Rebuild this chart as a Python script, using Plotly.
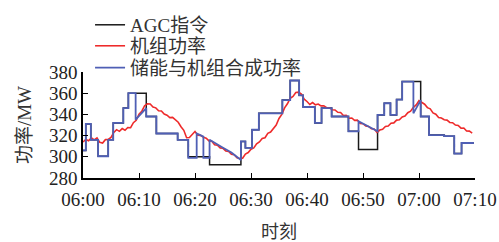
import numpy as np
import plotly.graph_objects as go

# ---------------- data ----------------
tick_vals = [0, 10, 20, 30, 40, 50, 60, 70]
tick_text = ["06:00", "06:10", "06:20", "06:30", "06:40", "06:50", "07:00", "07:10"]

# AGC command (step, value held from each time)
agc_t = [0, 0.5, 1.4, 2.7, 4.5, 5.4, 7.2, 8.1, 11.3, 13.1, 16.9, 18.8, 22.6, 28.2, 29.0,
         30.2, 31.4, 35.6, 37.0, 38.6, 39.3, 41.4, 42.6, 44.4, 47.4, 49.2, 52.6, 53.8,
         54.9, 56.0, 57.0, 60.3, 61.8, 64.5, 66.3, 67.6, 69.8]
agc_v = [306, 331, 316, 300.5, 316, 332, 346, 360, 338, 322, 316, 300, 292.5, 314.5, 308.5,
         325.5, 341, 353.5, 372, 358, 347, 332, 346, 338, 324, 307, 339.5, 350.5,
         339.5, 354, 371, 338, 320.5, 319.5, 303, 313, 313]

# unit power (sampled every 0.5 min)
unit_v = [314.0, 316.3, 315.2, 318.0, 316.0, 317.8, 313.6, 313.0, 316.2, 316.4,
          318.3, 323.0, 325.6, 324.0, 326.6, 325.0, 327.6, 327.4, 332.2, 334.4,
          340.2, 343.0, 348.2, 350.0, 349.8, 347.0, 346.2, 343.4, 343.2, 340.4,
          339.2, 337.0, 337.2, 334.4, 332.6, 328.4, 325.0, 318.0, 318.2, 321.0,
          323.8, 320.4, 320.2, 318.4, 317.6, 315.0, 314.6, 311.4, 311.0, 308.4,
          308.0, 305.4, 305.0, 302.4, 302.0, 299.0, 298.4, 298.6, 302.6, 304.0,
          307.2, 308.4, 312.2, 314.0, 317.2, 318.0, 322.2, 323.4, 327.2, 330.0,
          336.2, 340.0, 346.2, 350.0, 355.2, 357.0, 360.6, 361.0, 359.2, 354.4,
          352.2, 349.4, 351.2, 349.0, 349.8, 348.0, 348.2, 346.4, 346.2, 344.4,
          344.2, 342.0, 341.8, 339.0, 339.2, 336.4, 336.6, 334.4, 334.6, 331.4,
          331.2, 329.0, 328.6, 326.4, 326.2, 323.0, 325.2, 326.0, 328.6, 329.0,
          331.6, 332.0, 334.6, 335.0, 337.6, 338.4, 341.6, 343.0, 346.6, 349.0,
          353.0, 351.4, 349.6, 346.4, 345.2, 341.4, 340.2, 337.0, 336.6, 335.0,
          334.6, 332.4, 332.2, 330.0, 329.6, 327.0, 327.2, 324.4, 324.2, 322.4]
unit_t = list(np.arange(len(unit_v)) * 0.5)

# storage + unit combined power
comb_t = [0, 0.5, 0.5, 1.4, 1.4, 2.7, 2.7, 4.5, 4.5, 5.4, 5.4, 7.2, 7.2, 8.1, 8.1, 9.4,
          9.4, 10.4, 11.3, 11.3, 13.1, 13.1, 16.9, 16.9, 18.8, 18.8, 20.3, 20.3, 21.0,
          21.5, 21.5, 22.6, 22.6, 23.5, 25.0, 26.5, 28.2, 28.2, 29.0, 29.0, 30.2, 30.2,
          31.4, 31.4, 35.6, 35.6, 37.0, 37.0, 38.6, 38.6, 39.3, 39.3, 41.4, 41.4, 42.6,
          42.6, 44.4, 44.4, 47.4, 47.4, 49.2, 49.2, 50.5, 52.6, 52.6, 53.8, 53.8, 54.9,
          54.9, 56.0, 56.0, 57.0, 57.0, 59.0, 59.0, 60.3, 60.3, 61.8, 61.8, 64.5, 64.5,
          66.3, 66.3, 67.6, 67.6, 69.8]
comb_v = [306, 306, 331, 331, 316, 316, 300.5, 300.5, 316, 316, 332, 332, 346, 346, 360, 360,
          335, 341, 346, 338, 338, 322, 322, 316, 316, 299, 299, 322, 320,
          319, 299, 299, 316, 313, 308.5, 304, 297, 314.5, 314.5, 308.5, 308.5, 325.5,
          325.5, 341, 341, 353.5, 353.5, 372, 372, 358, 358, 347, 347, 332, 332,
          346, 346, 338, 338, 324, 324, 333.5, 330, 324, 339.5, 339.5, 350.5, 350.5,
          339.5, 339.5, 354, 354, 371, 371, 341, 353.5, 338, 338, 320.5, 320.5, 319.5,
          319.5, 303, 303, 313, 313]

names = ["AGC指令", "机组功率", "储能与机组合成功率"]
colors = ["#1a1a1a", "#ee2b2b", "#4f5fb5"]

FONT = "Liberation Serif, Noto Sans CJK SC, serif"

fig = go.Figure()
fig.add_trace(go.Scatter(x=agc_t, y=agc_v, mode="lines", name=names[0], legend="legend",
                         line=dict(color=colors[0], width=1.5, shape="hv")))
fig.add_trace(go.Scatter(x=unit_t, y=unit_v, mode="lines", name=names[1], legend="legend2",
                         line=dict(color=colors[1], width=1.6)))
fig.add_trace(go.Scatter(x=comb_t, y=comb_v, mode="lines", name=names[2], legend="legend3",
                         line=dict(color=colors[2], width=1.8)))

leg_common = dict(x=0.018, xanchor="left", yanchor="middle",
                  bgcolor="rgba(0,0,0,0)", font=dict(size=19, color="#333333"),
                  itemwidth=30)

fig.update_layout(
    width=499, height=242,
    margin=dict(l=83, r=24, t=72, b=64, autoexpand=False),
    paper_bgcolor="white", plot_bgcolor="white",
    font=dict(family=FONT, size=19, color="#333333"),
    showlegend=True,
    legend=dict(y=1.444, **leg_common),
    legend2=dict(y=1.246, **leg_common),
    legend3=dict(y=1.040, **leg_common),
)
fig.update_xaxes(range=[0, 70], tickvals=tick_vals, ticktext=tick_text,
                 showline=True, linecolor="black", linewidth=1.5, mirror=False,
                 ticks="inside", ticklen=5, tickcolor="black", tickwidth=1.3,
                 showgrid=False, zeroline=False, automargin=False,
                 ticklabelstandoff=3,
                 tickfont=dict(size=19, color="#222222"),
                 title=dict(text="时刻", font=dict(size=18, color="#333333"), standoff=18))
fig.update_yaxes(range=[280, 380], dtick=20, tick0=280,
                 showline=True, linecolor="black", linewidth=1.5, mirror=False,
                 ticks="inside", ticklen=5, tickcolor="black", tickwidth=1.3,
                 showgrid=False, zeroline=False, automargin=False,
                 tickfont=dict(size=19, color="#222222"),
                 title=dict(text="功率/MW", font=dict(size=19, color="#333333"), standoff=12))

fig.write_html("out.html", config={"displayModeBar": False},
               post_script="document.body.style.margin='0px';")
